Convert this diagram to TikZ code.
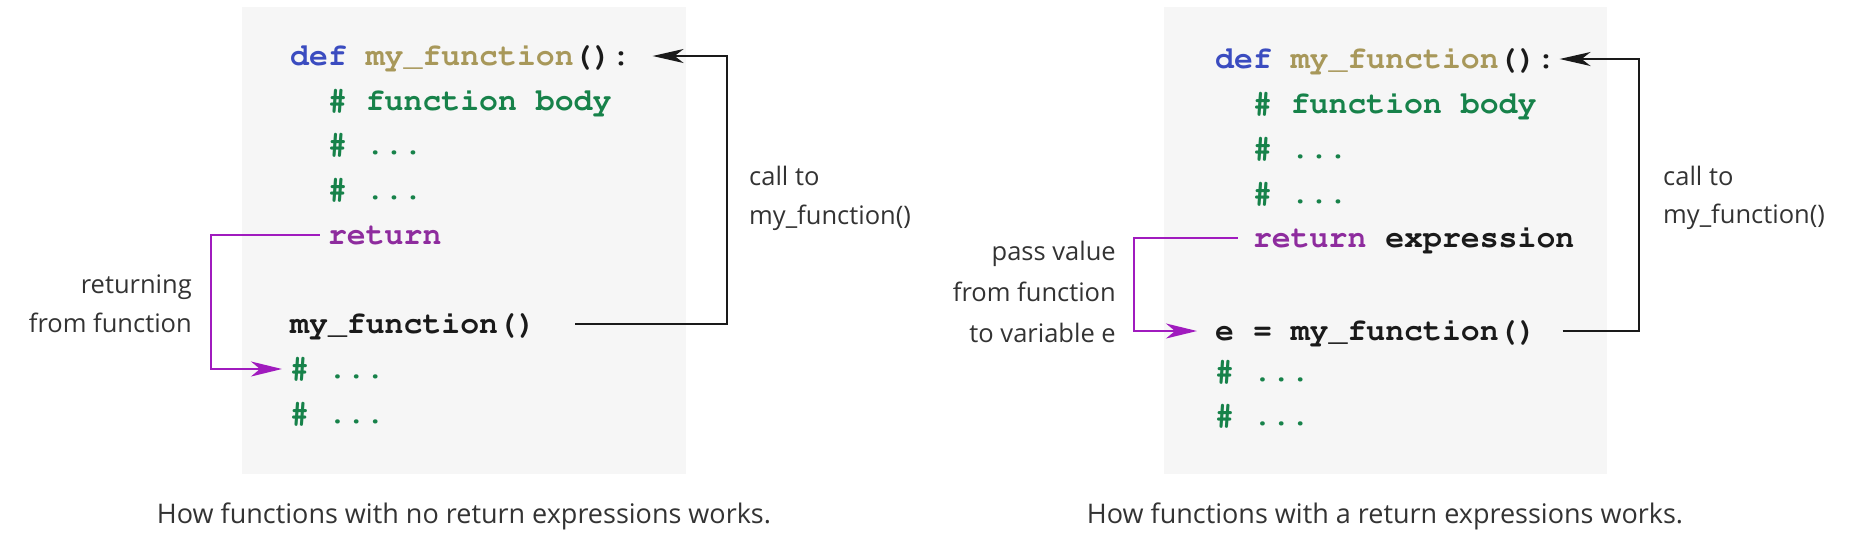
\documentclass[tikz,border=0pt]{standalone}
\usepackage{fontspec}
\setmainfont{Open Sans}
\newcommand{\codefont}{\fontencoding{T1}\fontfamily{pcr}\fontseries{b}\selectfont}
\usetikzlibrary{arrows.meta}

\definecolor{codebg}{HTML}{F6F6F6}
\definecolor{kwblue}{HTML}{3B4CC0}
\definecolor{fngold}{HTML}{A8985A}
\definecolor{cmtgreen}{HTML}{17824A}
\definecolor{retpurple}{HTML}{8E2C9E}
\definecolor{retarrow}{HTML}{A01BBE}
\definecolor{codeblack}{HTML}{1A1A1A}
\definecolor{labelgray}{HTML}{333333}

\newcommand{\kw}[1]{\textcolor{kwblue}{#1}}
\newcommand{\fn}[1]{\textcolor{fngold}{#1}}
\newcommand{\cmt}[1]{\textcolor{cmtgreen}{#1}}
\newcommand{\ret}[1]{\textcolor{retpurple}{#1}}

\begin{document}
\begin{tikzpicture}[x=1pt, y=-1pt,
  code/.style={anchor=base west, inner sep=0pt, text height=18pt, text depth=0pt,
    font=\codefont\fontsize{31.5}{38}\selectfont, text=codeblack},
  lbl/.style={inner sep=0pt, font=\fontsize{25.5}{30}\selectfont, text=labelgray},
  captext/.style={anchor=base, inner sep=0pt, font=\fontsize{27}{32}\selectfont, text=labelgray},
  calls/.style={draw=codeblack, line width=2pt, -{Stealth[length=31pt, width=14pt, inset=9pt]}},
  rets/.style={draw=retarrow, line width=2pt, -{Stealth[length=31pt, width=15pt, inset=9pt]}}]
\useasboundingbox (0,0) rectangle (1852,539);

% code panels
\fill[codebg] (242,7) rectangle (686,474);
\fill[codebg] (1164,7) rectangle (1607,474);

% left: no return expression
\node[code] (ldef) at (290,65) {\kw{def} \fn{my\_function}():};
\node[code] (lbody) at (327.8,110) {\cmt{\# function body}};
\node[code] (ldots1) at (327.8,154) {\cmt{\# ...}};
\node[code] (ldots2) at (327.8,199) {\cmt{\# ...}};
\node[code] (lret) at (327.8,244) {\ret{return}};
\node[code] (lcall) at (290,333) {my\_function()};
\node[code] (lrest1) at (290,378) {\cmt{\# ...}};
\node[code] (lrest2) at (290,423) {\cmt{\# ...}};

% right: return expression
\node[code] (rdef) at (1215,68) {\kw{def} \fn{my\_function}():};
\node[code] (rbody) at (1252.8,113) {\cmt{\# function body}};
\node[code] (rdots1) at (1252.8,158) {\cmt{\# ...}};
\node[code] (rdots2) at (1252.8,203) {\cmt{\# ...}};
\node[code] (rret) at (1252.8,247) {\ret{return} expression};
\node[code] (rcall) at (1215,340) {e = my\_function()};
\node[code] (rrest1) at (1215,381) {\cmt{\# ...}};
\node[code] (rrest2) at (1215,425) {\cmt{\# ...}};

% labels
\node[lbl, anchor=base west] (lcallto) at (749,185) {call to};
\node[lbl, anchor=base west] (lcallfn) at (749,224) {my\_function()};
\node[lbl, anchor=base east] (lreturning) at (192,293) {returning};
\node[lbl, anchor=base east] (lfromfn) at (192,332) {from function};

\node[lbl, anchor=base west] (rcallto) at (1663,185) {call to};
\node[lbl, anchor=base west] (rcallfn) at (1663,223) {my\_function()};
\node[lbl, anchor=base east] (rpass) at (1116,260) {pass value};
\node[lbl, anchor=base east] (rfromfn) at (1116,301) {from function};
\node[lbl, anchor=base east] (rtovar) at (1116,342) {to variable e};

\node[captext] (lcap) at (464,523) {How functions with no return expressions works.};
\node[captext] (rcap) at (1385,523) {How functions with a return expressions works.};

% connectors
\coordinate (lturn) at (727,0);
\coordinate (lback) at (211,0);
\coordinate (rturn) at (1639,0);
\coordinate (rback) at (1134,0);

\draw[calls] ([xshift=39pt]lcall.east) -| (lturn |- ldef.east) -- ([xshift=22pt]ldef.east);
\draw[rets] ([xshift=-8pt]lret.west) -| (lback |- lrest1.west) -- ([xshift=-8pt]lrest1.west);

\draw[calls] ([xshift=26pt]rcall.east) -| (rturn |- rdef.east) -- ([xshift=4pt]rdef.east);
\draw[rets] ([xshift=-15pt]rret.west) -| (rback |- rcall.west) -- ([xshift=-18pt]rcall.west);
\end{tikzpicture}
\end{document}
